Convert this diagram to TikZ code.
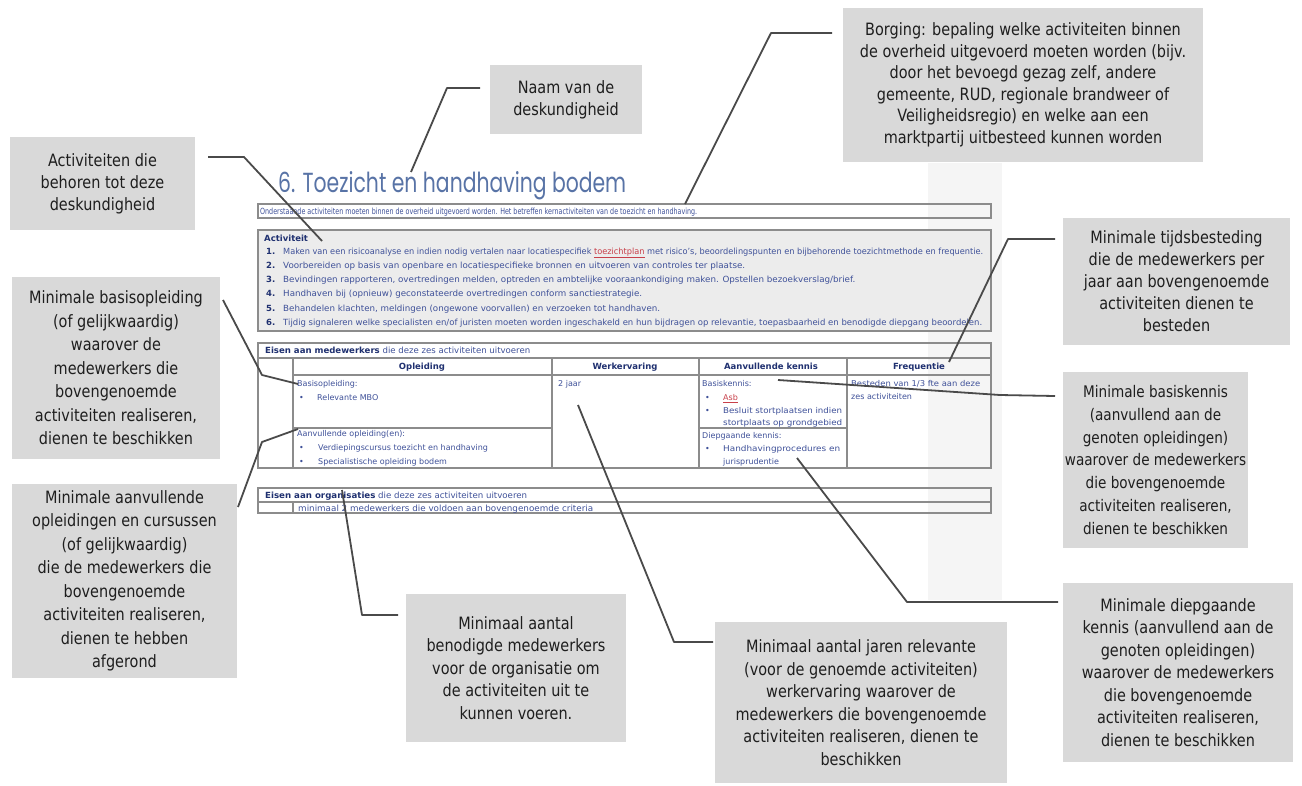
\documentclass[tikz,border=0pt]{standalone}
\usepackage{fontspec}
\setmainfont{DejaVu Sans}
\newfontfamily\cf[FakeStretch=0.85]{DejaVu Sans}
\newfontfamily\tfont{Poppins}
\usetikzlibrary{calc}
\definecolor{callgray}{HTML}{D9D9D9}
\definecolor{linegray}{HTML}{4A4A4A}
\definecolor{docblue}{HTML}{3F5199}
\definecolor{docnavy}{HTML}{1F3070}
\definecolor{titleblue}{HTML}{5873A6}
\definecolor{bordergray}{HTML}{8C8C8C}
\definecolor{actfill}{HTML}{ECECEC}
\definecolor{bandgray}{HTML}{F5F5F5}
\definecolor{txtdark}{HTML}{1E1E1E}
\definecolor{spellred}{HTML}{C8404A}
\newcommand\fitw[2]{\resizebox{#1pt}{\height}{#2}}
\newcommand\cfs[2]{\cf\fontsize{#1}{#2}\selectfont}
\tikzset{
  callout/.style={fill=callgray, draw=none, align=center, inner sep=0pt, text=txtdark},
  leader/.style={draw=linegray, line width=1.8pt, line join=round},
  doc/.style={inner sep=0pt, text=docblue, anchor=base west, font=\fontsize{8.5}{10}\selectfont},
  docs/.style={doc, font=\fontsize{8}{10}\selectfont},
  doch/.style={doc, anchor=base, text=docnavy},
  frame/.style={draw=bordergray, line width=1.4pt},
  cell/.style={draw=bordergray, line width=1.1pt},
}
\begin{document}
\begin{tikzpicture}[x=1pt,y=-1pt]
\useasboundingbox (0,0) rectangle (1302,785);
\fill[white] (0,0) rectangle (1302,785);
\fill[bandgray] (928,163) rectangle (1002,600);

% ---------- document ----------
\node[inner sep=0pt, anchor=base west, text=titleblue] (title) at (278,192)
  {\resizebox{348pt}{21pt}{\tfont 6. Toezicht en handhaving bodem}};

\draw[frame] (258,204) rectangle (991,218);
\node[doc] (intro) at (260,214.5) {\fitw{437}{Onderstaande activiteiten moeten binnen de overheid uitgevoerd worden. Het betreffen kernactiviteiten van de toezicht en handhaving.}};

\draw[frame, fill=actfill] (258,230) rectangle (991,331);
\node[doc, text=docnavy] (act) at (264,241.5) {\bfseries Activiteit};
\node[doc, text=docnavy] (n1) at (266,254) {\bfseries 1.};
\node[doc, text=docnavy] (n2) at (266,268.3) {\bfseries 2.};
\node[doc, text=docnavy] (n3) at (266,282.6) {\bfseries 3.};
\node[doc, text=docnavy] (n4) at (266,296.9) {\bfseries 4.};
\node[doc, text=docnavy] (n5) at (266,311.2) {\bfseries 5.};
\node[doc, text=docnavy] (n6) at (266,325.5) {\bfseries 6.};
\node[doc] (i1) at (283,254) {\fitw{700}{Maken van een risicoanalyse en indien nodig vertalen naar locatiespecifiek {\color{spellred}\underline{toezichtplan}} met risico's, beoordelingspunten en bijbehorende toezichtmethode en frequentie.}};
\node[doc] (i2) at (283,268.3) {\fitw{462}{Voorbereiden op basis van openbare en locatiespecifieke bronnen en uitvoeren van controles ter plaatse.}};
\node[doc] (i3) at (283,282.6) {\fitw{572}{Bevindingen rapporteren, overtredingen melden, optreden en ambtelijke vooraankondiging maken. Opstellen bezoekverslag/brief.}};
\node[doc] (i4) at (283,296.9) {\fitw{359}{Handhaven bij (opnieuw) geconstateerde overtredingen conform sanctiestrategie.}};
\node[doc] (i5) at (283,311.2) {\fitw{377}{Behandelen klachten, meldingen (ongewone voorvallen) en verzoeken tot handhaven.}};
\node[doc] (i6) at (283,325.5) {\fitw{699}{Tijdig signaleren welke specialisten en/of juristen moeten worden ingeschakeld en hun bijdragen op relevantie, toepasbaarheid en benodigde diepgang beoordelen.}};

% table medewerkers
\draw[frame] (258,343) rectangle (991,468);
\draw[cell] (258,358) -- (991,358);
\draw[cell] (293,375) -- (991,375);
\draw[cell] (293,358) -- (293,468);
\draw[cell] (552,358) -- (552,468);
\draw[cell] (699,358) -- (699,468);
\draw[cell] (847,358) -- (847,468);
\draw[cell] (293,428) -- (552,428);
\draw[cell] (699,428) -- (847,428);
\node[doc] (tm) at (265,353.5) {\fitw{265}{{\bfseries\color{docnavy}Eisen aan medewerkers} die deze zes activiteiten uitvoeren}};
\node[doch] (h1) at (422,369.5) {\bfseries Opleiding};
\node[doch] (h2) at (625,369.5) {\bfseries Werkervaring};
\node[doch] (h3) at (771,369.5) {\bfseries Aanvullende kennis};
\node[doch] (h4) at (919,369.5) {\bfseries Frequentie};
\node[docs] (b1) at (297,386.5) {Basisopleiding:};
\node[docs] (b1a) at (299,400.5) {•};
\node[docs] (b1b) at (317,400.5) {Relevante MBO};
\node[docs] (b2) at (297,436.5) {Aanvullende opleiding(en):};
\node[docs] (b2a) at (299,450.5) {•};
\node[docs] (b2b) at (318,450.5) {Verdiepingscursus toezicht en handhaving};
\node[docs] (b2c) at (299,464.5) {•};
\node[docs] (b2d) at (318,464.5) {Specialistische opleiding bodem};
\node[docs] (w1) at (558,386.5) {2 jaar};
\node[docs] (k1) at (702,386.5) {Basiskennis:};
\node[docs] (k1a) at (705,400.5) {•};
\node[docs, text=spellred] (k1b) at (723,400.5) {\underline{Asb}};
\node[docs] (k1c) at (705,413.5) {•};
\node[docs] (k1d) at (723,413.5) {\fitw{119}{Besluit stortplaatsen indien}};
\node[docs] (k1e) at (723,425.5) {\fitw{119}{stortplaats op grondgebied}};
\node[docs] (k2) at (702,438.5) {Diepgaande kennis:};
\node[docs] (k2a) at (705,451.5) {•};
\node[docs] (k2b) at (723,451.5) {\fitw{117}{Handhavingprocedures en}};
\node[docs] (k2c) at (723,464.5) {jurisprudentie};
\node[docs] (f1) at (851,386.5) {\fitw{129}{Besteden van 1/3 fte aan deze}};
\node[docs] (f2) at (851,399.5) {zes activiteiten};

% table organisaties
\draw[frame] (258,488) rectangle (991,513);
\draw[cell] (258,502) -- (991,502);
\draw[cell] (293,502) -- (293,513);
\node[doc] (to) at (265,498.5) {\fitw{262}{{\bfseries\color{docnavy}Eisen aan organisaties} die deze zes activiteiten uitvoeren}};
\node[doc] (o1) at (298,511) {\fitw{295}{minimaal 2 medewerkers die voldoen aan bovengenoemde criteria}};

% ---------- callouts ----------
\node[callout, minimum width=185pt, minimum height=93pt, font=\cfs{17}{22}] (cA) at (102.5,183.5)
  {Activiteiten die\\behoren tot deze\\deskundigheid};
\node[callout, minimum width=152pt, minimum height=69pt, font=\cfs{17}{22}] (cB) at (566,99.5)
  {Naam van de\\deskundigheid};
\node[callout, minimum width=360pt, minimum height=154pt, font=\cfs{17}{21.5}] (cC) at (1023,85)
  {Borging: bepaling welke activiteiten binnen\\de overheid uitgevoerd moeten worden (bijv.\\door het bevoegd gezag zelf, andere\\gemeente, RUD, regionale brandweer of\\Veiligheidsregio) en welke aan een\\marktpartij uitbesteed kunnen worden};
\node[callout, minimum width=227pt, minimum height=127pt, font=\cfs{17}{22}] (cD) at (1176.5,281.5)
  {Minimale tijdsbesteding\\die de medewerkers per\\jaar aan bovengenoemde\\activiteiten dienen te\\besteden};
\node[callout, minimum width=185pt, minimum height=176pt, font=\cfs{16}{22.7}] (cE) at (1155.5,460)
  {Minimale basiskennis\\(aanvullend aan de\\genoten opleidingen)\\waarover de medewerkers\\die bovengenoemde\\activiteiten realiseren,\\dienen te beschikken};
\node[callout, minimum width=230pt, minimum height=179pt, font=\cfs{17}{22.5}] (cF) at (1178,672.5)
  {Minimale diepgaande\\kennis (aanvullend aan de\\genoten opleidingen)\\waarover de medewerkers\\die bovengenoemde\\activiteiten realiseren,\\dienen te beschikken};
\node[callout, minimum width=292pt, minimum height=161pt, font=\cfs{17}{22.5}] (cG) at (861,702.5)
  {Minimaal aantal jaren relevante\\(voor de genoemde activiteiten)\\werkervaring waarover de\\medewerkers die bovengenoemde\\activiteiten realiseren, dienen te\\beschikken};
\node[callout, minimum width=220pt, minimum height=148pt, font=\cfs{17}{22.5}] (cH) at (516,668)
  {Minimaal aantal\\benodigde medewerkers\\voor de organisatie om\\de activiteiten uit te\\kunnen voeren.};
\node[callout, minimum width=208pt, minimum height=182pt, font=\cfs{17}{23.5}] (cI) at (116,368)
  {Minimale basisopleiding\\(of gelijkwaardig)\\waarover de\\medewerkers die\\bovengenoemde\\activiteiten realiseren,\\dienen te beschikken};
\node[callout, minimum width=225pt, minimum height=194pt, font=\cfs{17}{23.5}] (cJ) at (124.5,581)
  {Minimale aanvullende\\opleidingen en cursussen\\(of gelijkwaardig)\\die de medewerkers die\\bovengenoemde\\activiteiten realiseren,\\dienen te hebben\\afgerond};

% ---------- leader lines ----------
\coordinate (a1) at (208,157); \coordinate (a2) at (244,157); \coordinate (a3) at (322,241);
\coordinate (b1p) at (480,88); \coordinate (b2p) at (447,88); \coordinate (b3p) at (411,172);
\coordinate (c1) at (832,33); \coordinate (c2) at (771,33); \coordinate (c3) at (685,204);
\coordinate (d1) at (1055,239); \coordinate (d2) at (1008,239); \coordinate (d3) at (949,362);
\coordinate (e1) at (1055,396); \coordinate (e2) at (1000,395); \coordinate (e3) at (778,380);
\coordinate (g1f) at (1058,602); \coordinate (g2f) at (907,602); \coordinate (g3f) at (797,458);
\coordinate (j1g) at (713,642); \coordinate (j2g) at (674,642); \coordinate (j3g) at (578,405);
\coordinate (h1p) at (398,615); \coordinate (h2p) at (362,615); \coordinate (h3p) at (342,490);
\coordinate (i1p) at (223,300); \coordinate (i2p) at (262,375); \coordinate (i3p) at (298,384);
\coordinate (j1p) at (238,507); \coordinate (j2p) at (262,442); \coordinate (j3p) at (298,429);

\draw[leader] (a1) -- (a2) -- (a3);
\draw[leader] (b1p) -- (b2p) -- (b3p);
\draw[leader] (c1) -- (c2) -- (c3);
\draw[leader] (d1) -- (d2) -- (d3);
\draw[leader] (e1) -- (e2) -- (e3);
\draw[leader] (g1f) -- (g2f) -- (g3f);
\draw[leader] (j1g) -- (j2g) -- (j3g);
\draw[leader] (h1p) -- (h2p) -- (h3p);
\draw[leader] (i1p) -- (i2p) -- (i3p);
\draw[leader] (j1p) -- (j2p) -- (j3p);
\end{tikzpicture}
\end{document}
